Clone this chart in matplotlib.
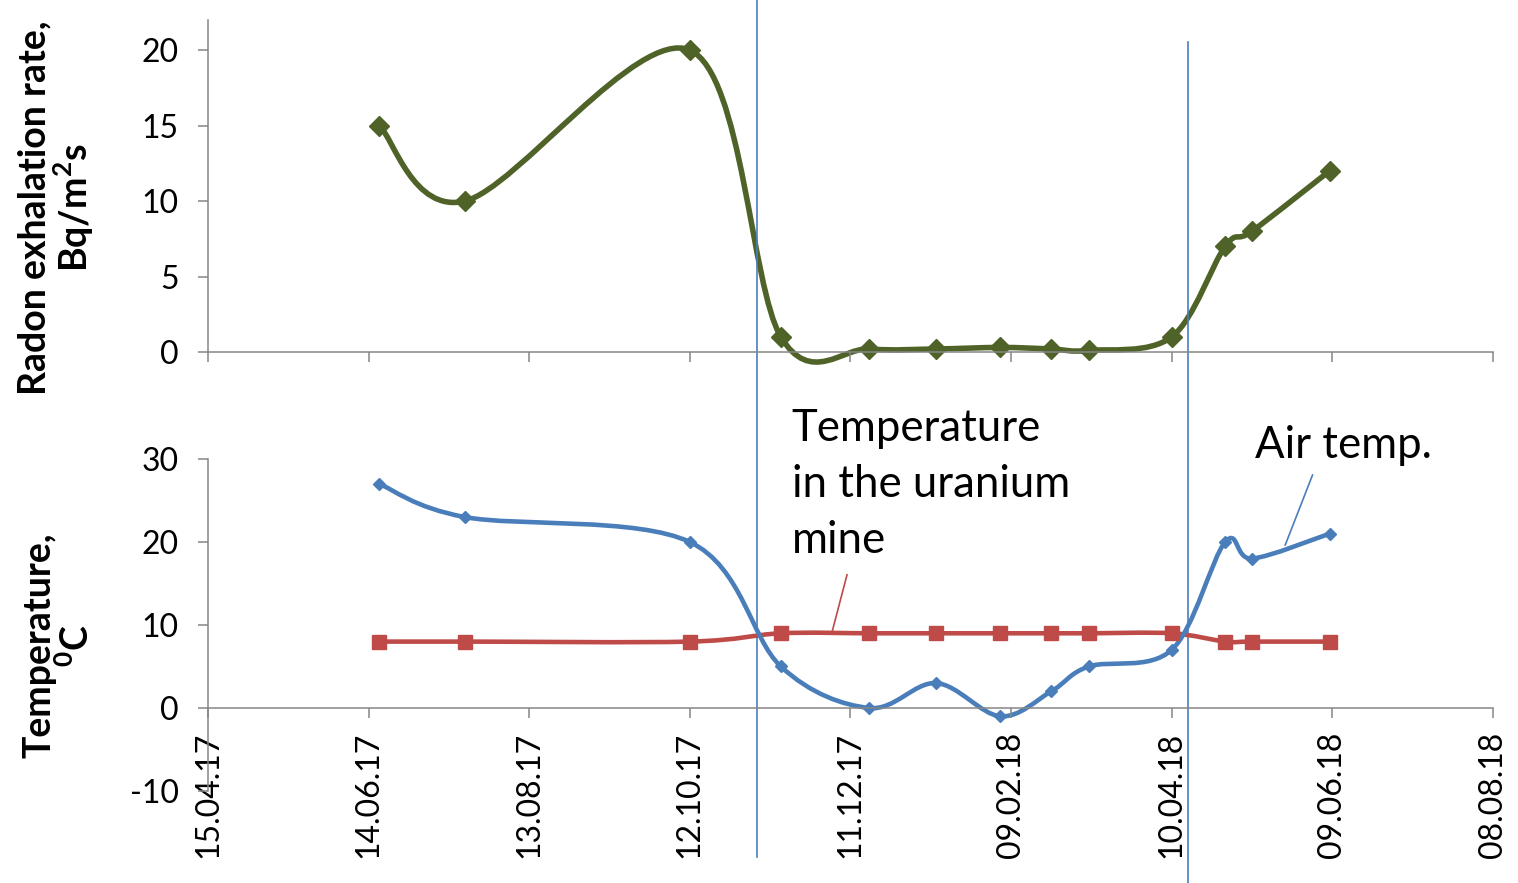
import numpy as np
import matplotlib
matplotlib.use('Agg')
import matplotlib.pyplot as plt
import matplotlib.dates as mdates
from matplotlib.path import Path
from matplotlib.patches import PathPatch
from matplotlib.transforms import blended_transform_factory
from datetime import datetime

plt.rcParams['font.family'] = ['Lato', 'DejaVu Sans']
plt.rcParams['axes.unicode_minus'] = False
plt.rcParams['mathtext.fontset'] = 'custom'
plt.rcParams['mathtext.rm'] = 'Lato'
plt.rcParams['mathtext.bf'] = 'Lato:bold'

# measurement dates (dd.mm.yy)
dates = ['18.06.17', '20.07.17', '12.10.17', '15.11.17', '18.12.17', '12.01.18',
         '05.02.18', '24.02.18', '10.03.18', '10.04.18', '30.04.18', '10.05.18',
         '08.06.18']
# radon exhalation rate, Bq/m2s
radon = [15, 10, 20, 1, 0.2, 0.2, 0.3, 0.2, 0.1, 1, 7, 8, 12]
# air temperature, C
air_temp = [27, 23, 20, 5, 0, 3, -1, 2, 5, 7, 20, 18, 21]
# temperature in the uranium mine, C
mine_temp = [8, 8, 8, 9, 9, 9, 9, 9, 9, 9, 8, 8, 8]

tick_dates = ['15.04.17', '14.06.17', '13.08.17', '12.10.17', '11.12.17',
              '09.02.18', '10.04.18', '09.06.18', '08.08.18']
# vertical marker lines
line_dates = ['06.11.17', '16.04.18']

green = '#4f6228'
blue = '#4a7ebb'
red = '#be4b48'
grey = '#868686'


def to_num(lst):
    return mdates.date2num([datetime.strptime(s, '%d.%m.%y') for s in lst])


# smoothed line like excel (catmull-rom bezier through the points)
def smooth(x, y):
    pts = np.column_stack([x, y])
    n = len(pts)
    verts = [pts[0]]
    codes = [Path.MOVETO]
    for i in range(n - 1):
        p0 = pts[i - 1] if i > 0 else pts[i]
        p1 = pts[i]
        p2 = pts[i + 1]
        p3 = pts[i + 2] if i + 2 < n else pts[i + 1]
        verts += [p1 + (p2 - p0) / 6.0, p2 - (p3 - p1) / 6.0, p2]
        codes += [Path.CURVE4] * 3
    return Path(verts, codes)


x = to_num(dates)
xt = to_num(tick_dates)

fig = plt.figure(figsize=(15.18, 8.83), dpi=100)
ax1 = fig.add_axes([0.1370, 0.6014, 0.8465, 0.3760])
ax2 = fig.add_axes([0.1370, 0.1042, 0.8465, 0.3760])

# (1) radon
ax1.add_patch(PathPatch(smooth(x, radon), fill=False, edgecolor=green, lw=4,
                        clip_on=False, joinstyle='round', capstyle='round'))
ax1.plot(x, radon, 'D', color=green, ms=10, clip_on=False)
ax1.set_ylim(0, 22)
ax1.set_yticks([0, 5, 10, 15, 20])

# (2) temperatures
ax2.add_patch(PathPatch(smooth(x, mine_temp), fill=False, edgecolor=red, lw=3.3,
                        clip_on=False, joinstyle='round', capstyle='round'))
ax2.plot(x, mine_temp, 's', color=red, ms=10, clip_on=False)
ax2.add_patch(PathPatch(smooth(x, air_temp), fill=False, edgecolor=blue, lw=3.3,
                        clip_on=False, joinstyle='round', capstyle='round'))
ax2.plot(x, air_temp, 'D', color=blue, ms=6.5, clip_on=False)
ax2.set_ylim(-10, 30)
ax2.set_yticks([-10, 0, 10, 20, 30])
ax2.spines['bottom'].set_position(('data', 0))

for ax in (ax1, ax2):
    ax.set_xlim(xt[0], xt[-1])
    ax.set_xticks(xt)
    ax.spines['top'].set_visible(False)
    ax.spines['right'].set_visible(False)
    for s in ('left', 'bottom'):
        ax.spines[s].set_color(grey)
        ax.spines[s].set_linewidth(1.1)
    ax.tick_params(axis='both', direction='out', length=7, width=1.1, color=grey,
                   labelsize=23, labelcolor='black')
    ax.tick_params(axis='y', pad=14)
    ax.patch.set_alpha(0)

ax1.set_xticklabels([])
ax2.set_xticklabels(tick_dates, rotation=90)
ax2.tick_params(axis='x', pad=10)

# axis titles
fig.text(57 / 1518, 1 - 208 / 883, 'Radon exhalation rate,\nBq/m$^{\\mathbf{2}}$s',
         rotation=90, ha='center', va='center', ma='center', fontsize=27,
         fontweight='bold', linespacing=1.0)
fig.text(59 / 1518, 1 - 645 / 883, 'Temperature,\n${}^{\\mathbf{0}}$C', rotation=90,
         ha='center', va='center', ma='center', fontsize=27, fontweight='bold',
         linespacing=1.0)

# annotations
ax2.text(to_num(['19.11.17'])[0], 36.1, 'Temperature\nin the uranium\nmine',
         fontsize=31.5, va='top', ha='left', linespacing=1.45, clip_on=False)
ax2.annotate('', xy=(to_num(['04.12.17'])[0], 9.0),
             xytext=(to_num(['10.12.17'])[0], 16.4),
             arrowprops=dict(arrowstyle='-', color=red, lw=1.2), annotation_clip=False)
ax2.text(to_num(['11.05.18'])[0], 30.1, 'Air temp.', fontsize=31.5,
         va='baseline', ha='left', clip_on=False)
ax2.annotate('', xy=(to_num(['22.05.18'])[0], 19.3),
             xytext=(to_num(['02.06.18'])[0], 28.4),
             arrowprops=dict(arrowstyle='-', color=blue, lw=1.2), annotation_clip=False)

# vertical lines across both panels
trans = blended_transform_factory(ax1.transData, fig.transFigure)
xl = to_num(line_dates)
ax1.plot([xl[0], xl[0]], [1 - 857 / 883, 1.0], color=blue, lw=1.2,
         transform=trans, clip_on=False)
ax1.plot([xl[1], xl[1]], [0.0, 1 - 42 / 883], color=blue, lw=1.2,
         transform=trans, clip_on=False)

fig.savefig('out.png', dpi=100)
